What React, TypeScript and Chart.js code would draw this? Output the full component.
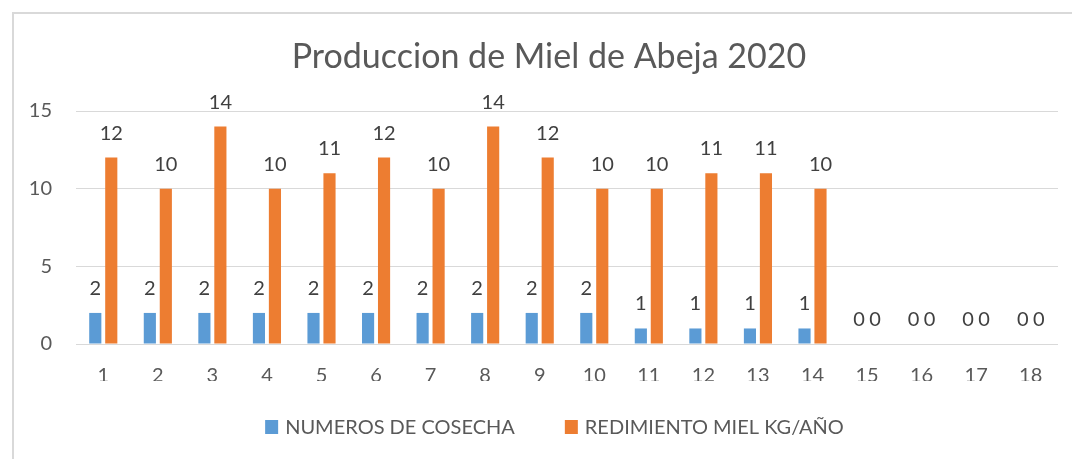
import React, { useEffect, useRef } from "react";
import { Chart, registerables } from "chart.js";

Chart.register(...registerables);

const TITLE = "Produccion de Miel de Abeja 2020";
const categories = ["1", "2", "3", "4", "5", "6", "7", "8", "9", "10", "11", "12", "13", "14", "15", "16", "17", "18"];
const cosechaLabel = "NUMEROS DE COSECHA";
const rendimientoLabel = "REDIMIENTO MIEL KG/AÑO";
const cosecha = [2, 2, 2, 2, 2, 2, 2, 2, 2, 2, 1, 1, 1, 1, 0, 0, 0, 0];
const rendimiento = [12, 10, 14, 10, 11, 12, 10, 14, 12, 10, 10, 11, 11, 10, 0, 0, 0, 0];
const yTicks = [0, 5, 10, 15];

const BLUE = "#5b9bd5";
const ORANGE = "#ed7d31";
const TEXT = "#595959";
const LABEL_TEXT = "#404040";
const FONT = "Lato, 'Noto Sans', sans-serif";

const dataLabelPlugin = {
  id: "dataLabels",
  afterDatasetsDraw(chart: any) {
    const ctx = chart.ctx;
    ctx.save();
    ctx.font = `20px ${FONT}`;
    ctx.fillStyle = LABEL_TEXT;
    ctx.textAlign = "center";
    ctx.textBaseline = "alphabetic";
    chart.data.datasets.forEach((ds: any, i: number) => {
      const meta = chart.getDatasetMeta(i);
      meta.data.forEach((el: any, j: number) => {
        ctx.fillText(String(ds.data[j]), el.x, el.y - 18);
      });
    });
    ctx.restore();
  },
};

const titleLegendPlugin = {
  id: "titleLegend",
  afterDraw(chart: any) {
    const ctx = chart.ctx;
    ctx.save();
    // title
    ctx.font = `34px ${FONT}`;
    ctx.fillStyle = TEXT;
    ctx.textAlign = "center";
    ctx.textBaseline = "alphabetic";
    ctx.fillText(TITLE, 549, 68);
    // legend
    ctx.font = `20px ${FONT}`;
    ctx.textAlign = "left";
    const items = chart.data.datasets.map((ds: any) => ({ text: ds.label, color: ds.backgroundColor }));
    const boxW = 13;
    const boxGap = 7;
    const itemGap = 50;
    const widths = items.map((it: any) => boxW + boxGap + ctx.measureText(it.text).width);
    const total = widths.reduce((a: number, b: number) => a + b, 0) + itemGap * (items.length - 1);
    let x = 554.5 - total / 2;
    const baseline = 434;
    items.forEach((it: any, i: number) => {
      ctx.fillStyle = it.color;
      ctx.fillRect(x, baseline - 14, boxW, 14);
      ctx.fillStyle = TEXT;
      ctx.fillText(it.text, x + boxW + boxGap, baseline);
      x += widths[i] + itemGap;
    });
    ctx.restore();
  },
};

export default function App() {
  const ref = useRef<HTMLCanvasElement | null>(null);
  useEffect(() => {
    if (!ref.current) return;
    const chart = new Chart(ref.current, {
      type: "bar",
      data: {
        labels: categories,
        datasets: [
          { label: cosechaLabel, data: cosecha, backgroundColor: BLUE },
          { label: rendimientoLabel, data: rendimiento, backgroundColor: ORANGE },
        ],
      },
      options: {
        responsive: false,
        animation: false,
        devicePixelRatio: 1,
        layout: { padding: { left: 12, right: 14, top: 111, bottom: 78 } },
        datasets: { bar: { categoryPercentage: 0.586, barPercentage: 0.76 } } as any,
        plugins: {
          legend: { display: false },
          title: { display: false },
          tooltip: { enabled: false },
        },
        scales: {
          x: {
            grid: { display: false, drawTicks: false },
            border: { display: false },
            ticks: { color: TEXT, font: { family: FONT, size: 20 }, padding: 20 },
            afterFit: (s: any) => {
              s.height = 37;
            },
          },
          y: {
            min: 0,
            max: 15,
            grid: { color: "#d9d9d9", lineWidth: 1, drawTicks: false },
            border: { display: false },
            ticks: { color: TEXT, font: { family: FONT, size: 20 }, padding: 24 },
            afterBuildTicks: (s: any) => {
              s.ticks = yTicks.map((v) => ({ value: v }));
            },
            afterFit: (s: any) => {
              s.width = 64;
            },
          },
        },
      },
      plugins: [dataLabelPlugin, titleLegendPlugin],
    });
    return () => chart.destroy();
  }, []);

  return (
    <div style={{ position: "fixed", left: 0, top: 0, width: 1072, height: 459, background: "#fff", overflow: "hidden" }}>
      <div
        style={{
          position: "absolute",
          left: 12,
          top: 12,
          width: 1200,
          height: 600,
          border: "2px solid #d9d9d9",
          boxSizing: "border-box",
        }}
      />
      <canvas ref={ref} width={1072} height={459} style={{ position: "absolute", left: 0, top: 0, width: 1072, height: 459 }} />
    </div>
  );
}
